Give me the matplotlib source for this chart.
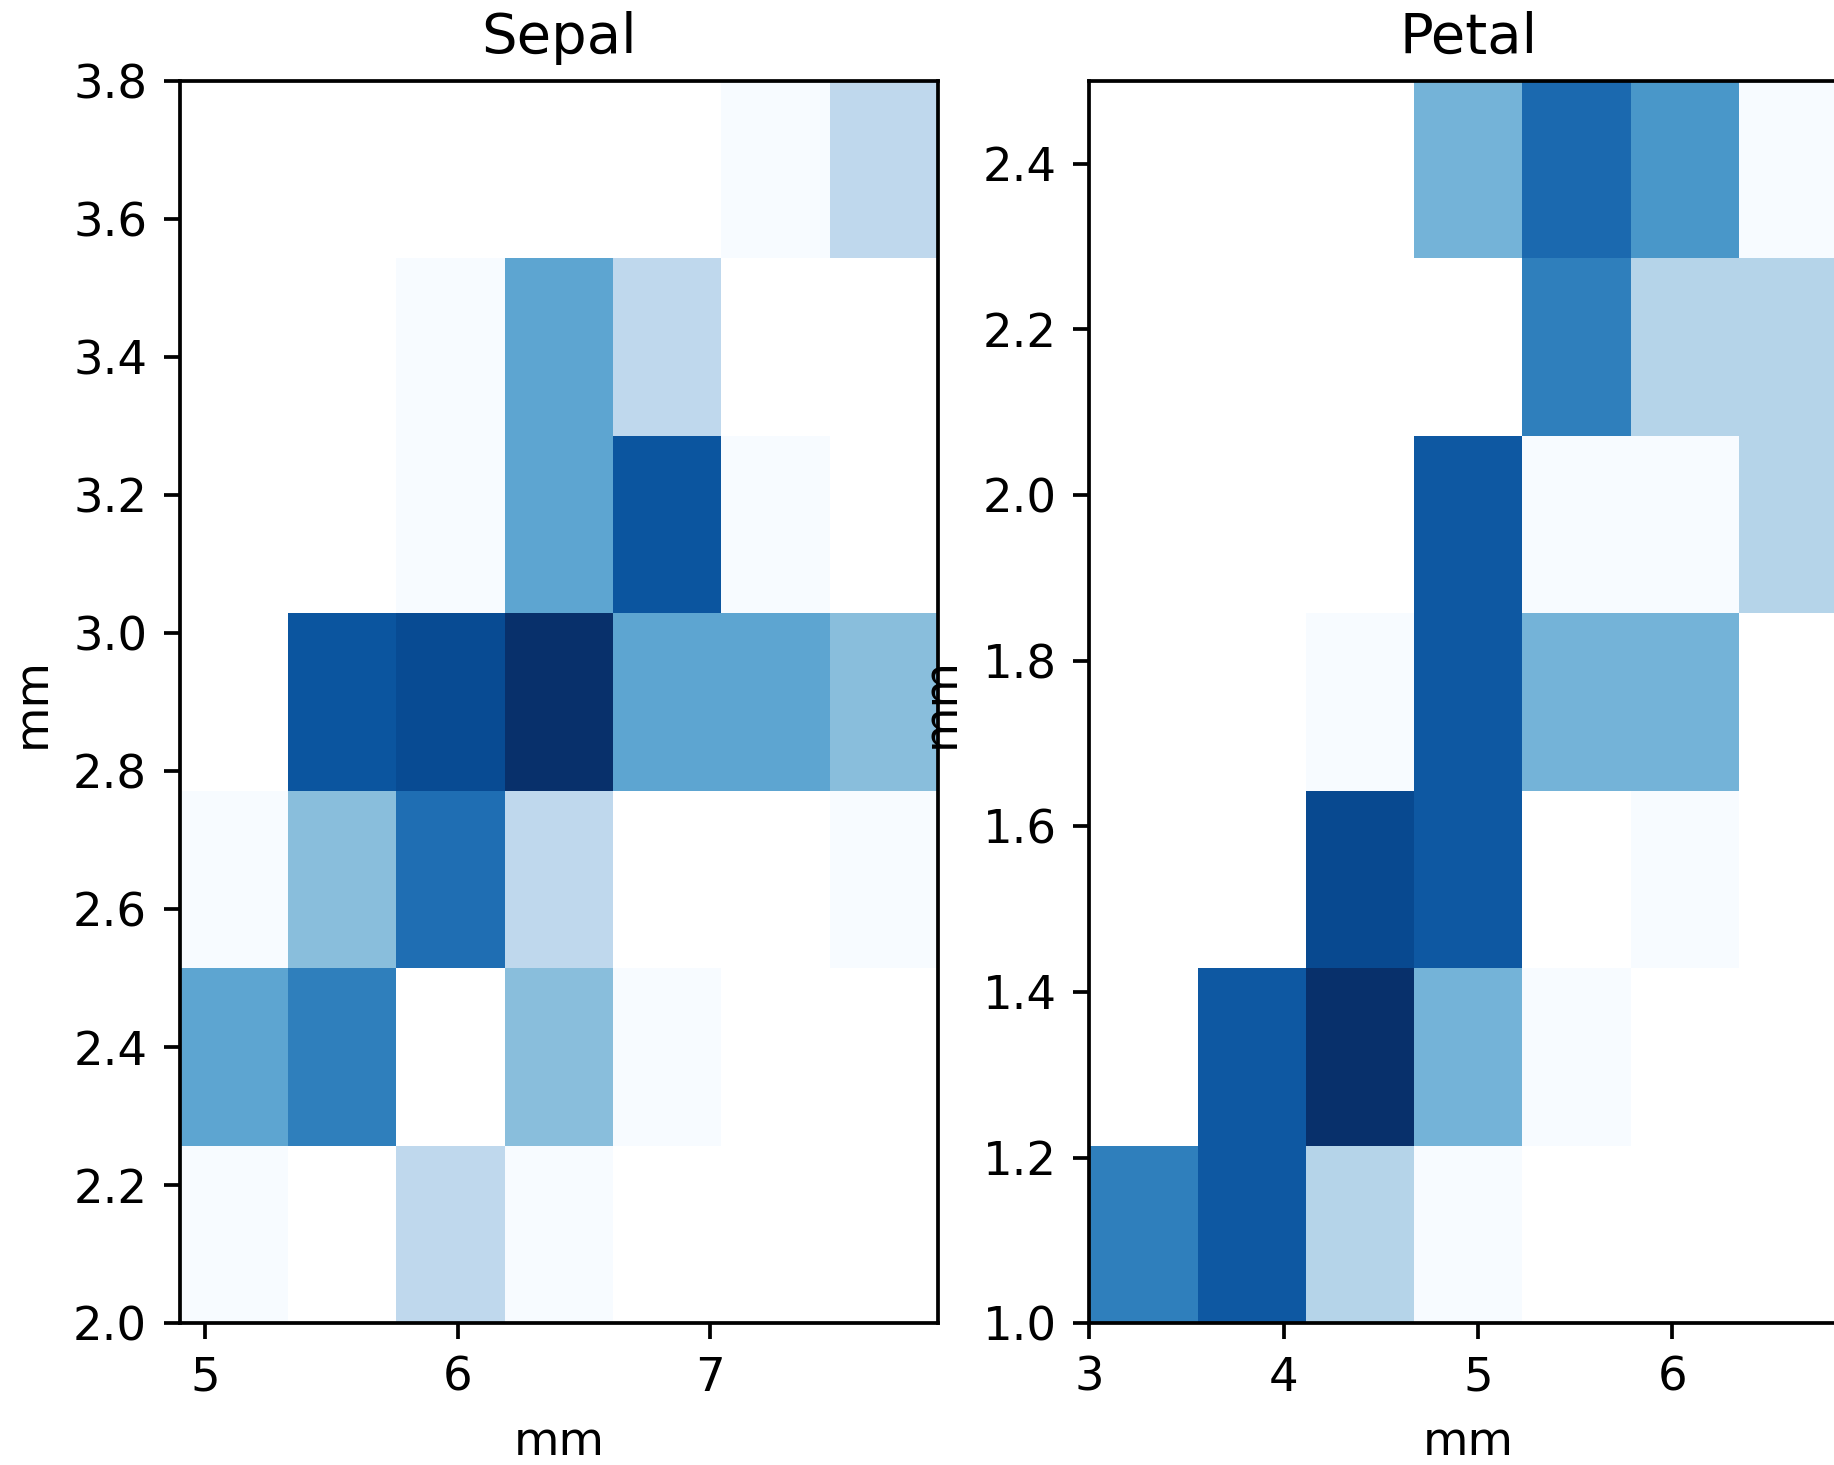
import numpy as np
import matplotlib
matplotlib.use("Agg")
import matplotlib.pyplot as plt
from matplotlib.colors import LogNorm

# 2D histogram counts, rows = y bins (bottom to top), cols = x bins (left to right)
sepal_counts = [
    [1, 0, 2, 1, 0, 0, 0],
    [4, 6, 0, 3, 1, 0, 0],
    [1, 3, 7, 2, 0, 0, 1],
    [0, 9, 10, 13, 4, 4, 3],
    [0, 0, 1, 4, 9, 1, 0],
    [0, 0, 1, 4, 2, 0, 0],
    [0, 0, 0, 0, 0, 1, 2],
]
petal_counts = [
    [5, 7, 2, 1, 0, 0, 0],
    [0, 7, 10, 3, 1, 0, 0],
    [0, 0, 8, 7, 0, 1, 0],
    [0, 0, 1, 7, 3, 3, 0],
    [0, 0, 0, 7, 1, 1, 2],
    [0, 0, 0, 0, 5, 2, 2],
    [0, 0, 0, 3, 6, 4, 1],
]
# length range (x) and width range (y) of each panel
sepal_x = (4.9, 7.9)
sepal_y = (2.0, 3.8)
petal_x = (3.0, 6.9)
petal_y = (1.0, 2.5)
nbins = 7

dpi = 336
fig, axes = plt.subplots(1, 2, figsize=(1834 / dpi, 1465 / dpi), dpi=dpi)
fig.subplots_adjust(left=0.0981, right=1.0072, bottom=0.0968, top=0.9447, wspace=0.2)


def hist_panel(ax, counts, xr, yr, title):
    xe = np.linspace(xr[0], xr[1], nbins + 1)
    ye = np.linspace(yr[0], yr[1], nbins + 1)
    h = np.ma.masked_less(np.array(counts, dtype=float), 1)
    ax.pcolormesh(xe, ye, h, cmap="Blues", norm=LogNorm(vmin=h.min(), vmax=h.max()))
    ax.set_xlim(xr)
    ax.set_ylim(yr)
    ax.set_title(title)
    ax.set_xlabel("mm")
    ax.set_ylabel("mm")


hist_panel(axes[0], sepal_counts, sepal_x, sepal_y, "Sepal")
hist_panel(axes[1], petal_counts, petal_x, petal_y, "Petal")

fig.savefig("out.png", dpi=dpi)
